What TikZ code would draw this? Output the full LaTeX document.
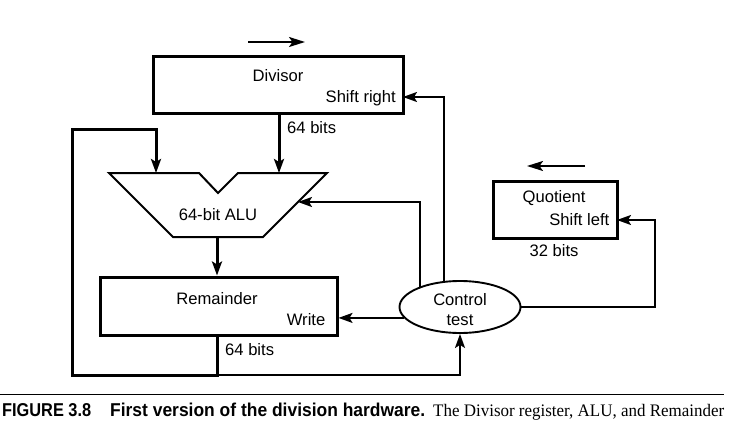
\documentclass[tikz,border=0pt]{standalone}
\usepackage{fontspec}
\setmainfont{Liberation Serif}
\newfontfamily\hv{Liberation Sans}
\usetikzlibrary{arrows.meta,shapes.geometric,calc}
\tikzset{
  arr/.tip={Stealth[length=14pt,width=10pt,inset=3pt]},
  bigarr/.tip={Stealth[length=16pt,width=10pt,inset=3.5pt]},
  thk/.style={line width=3pt},
  thn/.style={line width=1.9pt},
  reg/.style={draw,line width=3pt,rectangle,inner sep=0pt},
  lbl/.style={inner sep=0pt,font=\hv\fontsize{16.6}{19}\selectfont},
}
\begin{document}
\begin{tikzpicture}[x=1pt,y=-1pt]
\useasboundingbox (0,0) rectangle (735,425);
% registers
\node[reg,minimum width=250,minimum height=56] (div) at (278,85) {};
\node[reg,minimum width=237,minimum height=58] (rem) at (218.5,306) {};
\node[reg,minimum width=124,minimum height=57] (quo) at (555,209.5) {};
\node[draw,ellipse,line width=1.9pt,minimum width=121,minimum height=52,inner sep=0pt] (ctrl) at (460,307) {};
% ALU
\draw[line width=2pt,line join=miter] (109,173) -- (199,173) -- (218,193) -- (238,173) -- (327,173) -- (263,237) -- (173,237) -- cycle;
\coordinate (aluL) at (156,173);
\coordinate (aluR) at (279,173);
\coordinate (aluB) at (217,237);
\coordinate (aluRt) at (298,202);
\coordinate (divin) at (403,97);
\coordinate (loopc) at (217,375);
\coordinate (loopl) at (72,129);
\coordinate (qturn) at (655,220);
\coordinate (qin) at (617,220);
\coordinate (sa1) at (248,42);
\coordinate (sa2) at (305,42);
\coordinate (sb1) at (585,166);
\coordinate (sb2) at (527,166);
% labels
\node[lbl,anchor=base] (tdiv) at (278,82) {Divisor};
\node[lbl,anchor=base east] (tsr) at (396,102.5) {Shift right};
\node[lbl,anchor=base west] (t64a) at (287,133) {64 bits};
\node[lbl,anchor=base] (talu) at (218,220) {64-bit ALU};
\node[lbl,anchor=base] (trem) at (217,304) {Remainder};
\node[lbl,anchor=base east] (twr) at (325.5,325.5) {Write};
\node[lbl,anchor=base west] (t64b) at (225,355) {64 bits};
\node[lbl,anchor=base] (tquo) at (554,202) {Quotient};
\node[lbl,anchor=base east] (tsl) at (609.5,225) {Shift left};
\node[lbl,anchor=base] (t32) at (554,256.5) {32 bits};
\node[lbl,anchor=base] (tctl) at (460,305) {Control};
\node[lbl,anchor=base] (ttst) at (460,325) {test};
% connectors
\draw[thk,-arr] (div.south -| aluR) -- (aluR);
\draw[thk,-arr] (aluB) -- (aluB |- rem.north);
\draw[thk,-arr] (rem.south -| aluB) -- (loopc) -| (loopl) -| (aluL);
\draw[thn,-arr] (loopc) -| (ctrl.south);
\draw[thn,-arr] (ctrl.191) -- (ctrl.191 -| rem.east);
\draw[thn,-arr] (ctrl.153) |- (aluRt);
\draw[thn,-arr] (ctrl.121) |- (divin);
\draw[thn,-arr] (ctrl.east) -| (qturn) -- (qin);
\draw[thn,-bigarr] (sa1) -- (sa2);
\draw[thn,-bigarr] (sb1) -- (sb2);
% caption
\draw[line width=1pt] (0,394) -- (724,394);
\node[inner sep=0pt,anchor=base west] (cfig) at (2,416) {\resizebox{89pt}{\height}{\hv\bfseries\fontsize{18.6}{20}\selectfont FIGURE 3.8}};
\node[inner sep=0pt,anchor=base west] (cttl) at (110,416) {\resizebox{315pt}{\height}{\hv\bfseries\fontsize{18.6}{20}\selectfont First version of the division hardware.}};
\node[inner sep=0pt,anchor=base west] (ctxt) at (433,416) {\resizebox{291pt}{\height}{\fontsize{17.6}{20}\selectfont The Divisor register, ALU, and Remainder}};
\end{tikzpicture}
\end{document}
